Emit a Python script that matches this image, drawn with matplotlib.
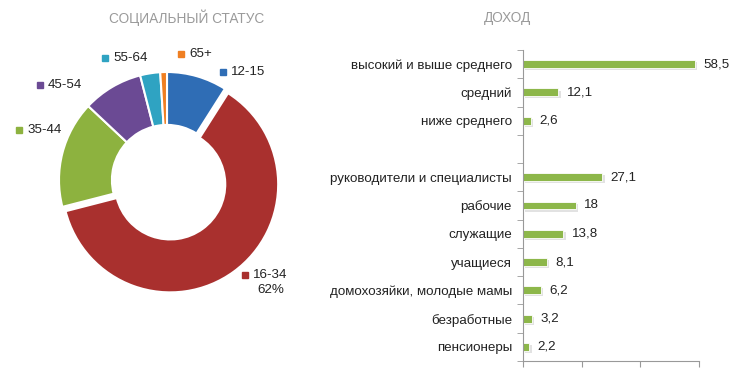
import matplotlib
matplotlib.use("Agg")
import matplotlib.pyplot as plt
import matplotlib.transforms as mtransforms
import numpy as np

# ---- data ----
age_labels = ["12-15", "16-34", "35-44", "45-54", "55-64", "65+"]
age_values = [9, 62, 16, 9, 3, 1]
age_colors = ["#2F6DB5", "#A9302E", "#8DB23F", "#6B4A94", "#2FA3C2", "#EF7F22"]

income_labels = ["высокий и выше среднего", "средний", "ниже среднего", "",
                 "руководители и специалисты", "рабочие", "служащие", "учащиеся",
                 "домохозяйки, молодые мамы", "безработные", "пенсионеры"]
income_values = [58.5, 12.1, 2.6, None, 27.1, 18, 13.8, 8.1, 6.2, 3.2, 2.2]

W, H = 740, 370
fig = plt.figure(figsize=(W / 100, H / 100), dpi=100)
fig.patch.set_facecolor("white")
FONT = ["Liberation Sans", "DejaVu Sans"]
NARROW = ["Liberation Sans Narrow", "Liberation Sans", "DejaVu Sans"]
FS = 9.6

def px_axes(left, top, width, height):
    return fig.add_axes([left / W, (H - top - height) / H, width / W, height / H])

# ---- titles ----
fig.text(187 / W, 1 - 18 / H, "СОЦИАЛЬНЫЙ СТАТУС", ha="center", va="center",
         color="#9A9A9A", fontsize=9.8, family=NARROW)
fig.text(507 / W, 1 - 18 / H, "ДОХОД", ha="center", va="center",
         color="#9A9A9A", fontsize=9.8, family=NARROW)

# ---- donut ----
cx, cy, R = 167, 180, 108
axp = px_axes(cx - R, cy - R, 2 * R, 2 * R)
explode = [0.05 if l == "16-34" else 0 for l in age_labels]
wedges, _ = axp.pie(age_values, colors=age_colors, startangle=90, counterclock=False,
                    explode=explode, radius=1.0,
                    wedgeprops=dict(width=0.49, edgecolor="white", linewidth=1.5))
axp.set_xlim(-1, 1)
axp.set_ylim(-1, 1)
axp.set_aspect("equal")
axp.axis("off")

# label positions in pixel coords (marker x, y)
label_pos = {"12-15": (223, 72), "65+": (181, 54), "55-64": (105, 58),
             "45-54": (40, 85), "35-44": (19, 130), "16-34": (245, 275)}
for lab, col, val in zip(age_labels, age_colors, age_values):
    mx, my = label_pos[lab]
    fx, fy = mx / W, 1 - my / H
    fig.lines.append(plt.Line2D([fx], [fy], marker="s", markersize=5, color=col,
                                linestyle="none", transform=fig.transFigure))
    fig.text(fx + 8 / W, fy, lab, ha="left", va="center", fontsize=FS,
             family=FONT, color="#222222")
    if lab == "16-34":
        fig.text(271 / W, 1 - 290 / H, f"{val}%", ha="center", va="center",
                 fontsize=FS, family=FONT, color="#222222")

# ---- bars ----
axb = px_axes(523, 50, 176, 311)
y = np.arange(len(income_labels))
mask = [v is not None for v in income_values]
yy = y[mask]
vv = np.array([v for v in income_values if v is not None])
shadow = axb.transData + mtransforms.ScaledTranslation(1.5 / 72, -1.5 / 72, fig.dpi_scale_trans)
axb.barh(yy, vv, height=0.28, color="#E2E2E2", transform=shadow, zorder=1)
axb.barh(yy, vv, height=0.28, color="#8DB74A", edgecolor="white", linewidth=0.6, zorder=2)
for yi, v in zip(yy, vv):
    axb.annotate(f"{v:g}".replace(".", ","), (v, yi), xytext=(6, 0),
                 textcoords="offset points", ha="left", va="center",
                 fontsize=FS, family=FONT, color="#222222")
axb.set_xlim(0, 60)
axb.set_ylim(len(income_labels) - 0.5, -0.5)
axb.set_yticks(y)
axb.set_yticklabels(income_labels, fontsize=FS, family=FONT, color="#222222")
axb.set_yticks(np.arange(-0.5, len(income_labels), 1), minor=True)
axb.tick_params(axis="y", which="major", length=0, pad=8)
axb.tick_params(axis="y", which="minor", length=4, color="#999999", direction="out")
axb.set_xticks([0, 20, 40, 60])
axb.set_xticklabels([])
axb.tick_params(axis="x", length=4, color="#999999", direction="out")
for s in ["top", "right"]:
    axb.spines[s].set_visible(False)
for s in ["left", "bottom"]:
    axb.spines[s].set_color("#999999")
    axb.spines[s].set_linewidth(0.8)
axb.set_facecolor("none")

fig.savefig("out.png", dpi=100, facecolor="white")
